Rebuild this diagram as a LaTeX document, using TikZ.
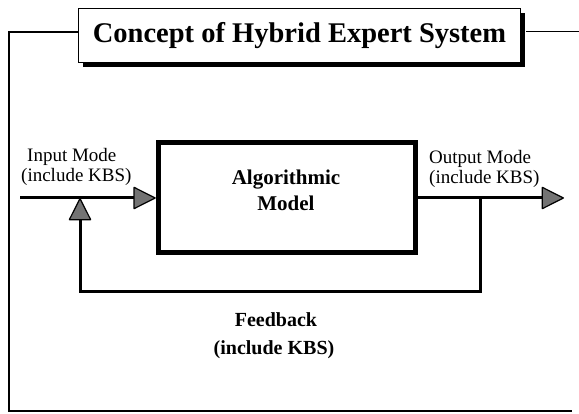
\documentclass[tikz,border=0pt]{standalone}
\usepackage{fontspec}
\setmainfont{Liberation Serif}
\usetikzlibrary{arrows.meta}
\begin{document}
\begin{tikzpicture}[x=1pt,y=-1pt,
  frameline/.style={line width=1.6pt},
  flow/.style={line width=3pt},
  tipfill/.style={-{Triangle[length=23pt,width=23pt,fill=black!55,line width=1.2pt,round]}},
  lbl/.style={inner sep=0pt,font=\fontsize{19}{20}\selectfont,align=left},
  boldlbl/.style={inner sep=0pt,font=\bfseries\fontsize{21}{26}\selectfont,align=center}]
\useasboundingbox (0,0) rectangle (579,414);
% outer frame
\coordinate (fTL) at (9,32);
\coordinate (fBL) at (9,411);
\coordinate (fBR) at (572,411);
\coordinate (fTR) at (579,32);
% title box
\fill (83,13) rectangle (525,67);
\node[draw,line width=1pt,fill=white,minimum width=442pt,minimum height=54pt,anchor=north west,inner sep=0pt] (title) at (78,8)
  {\bfseries\fontsize{28.5}{32}\selectfont Concept of Hybrid Expert System};
\draw[frameline] (title.west |- fTL) -- (fTL) -- (fBL) -- (fBR);
\draw[frameline,line width=1pt] (title.east |- fTR) ++(5,0) -- (fTR);
% algorithmic model
\node[draw,line width=5.5pt,minimum width=257pt,minimum height=110pt,anchor=north west,inner sep=0pt] (algo) at (155.75,139.75) {};
\node[boldlbl] (algotxt) at (286,190) {Algorithmic\\Model};
% coordinates for connectors
\coordinate (inStart) at (20,198);
\coordinate (outEnd) at (564,198);
\coordinate (split) at (480,198);
\coordinate (fbR) at (480,292);
\coordinate (fbL) at (80,292);
\coordinate (join) at (80,198);
\draw[flow,tipfill] (inStart) -- (algo.west |- inStart);
\draw[flow,tipfill] (algo.east |- outEnd) -- (outEnd);
\draw[flow,tipfill] (split) -- (fbR) -- (fbL) -- (join);
% labels
\node[lbl,anchor=west] (inlbl) at (21,167) {\hspace*{6pt}Input Mode\\(include KBS)};
\node[lbl,anchor=west] (outlbl) at (429,169) {Output Mode\\(include KBS)};
\node[inner sep=0pt,font=\bfseries\fontsize{20}{22}\selectfont] (fb1) at (276,320) {Feedback};
\node[inner sep=0pt,font=\bfseries\fontsize{20}{22}\selectfont] (fb2) at (274,350) {(include KBS)};
\end{tikzpicture}
\end{document}
